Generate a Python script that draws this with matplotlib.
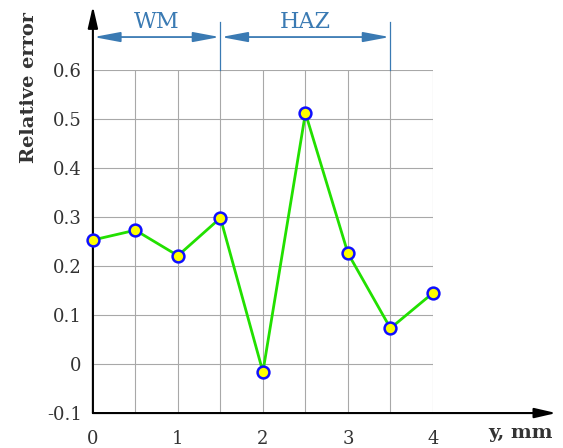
import matplotlib.pyplot as plt
import numpy as np

# data
y_pos = [0, 0.5, 1, 1.5, 2, 2.5, 3, 3.5, 4]
rel_err = [0.253, 0.273, 0.221, 0.298, -0.016, 0.512, 0.226, 0.073, 0.145]
yticks = [-0.1, 0, 0.1, 0.2, 0.3, 0.4, 0.5, 0.6]
ytick_labels = ['-0.1', '0', '0.1', '0.2', '0.3', '0.4', '0.5', '0.6']
zones = [('WM', 0, 1.5), ('HAZ', 1.5, 3.5)]

plt.rcParams['font.family'] = ['DejaVu Serif']
txt = '#333333'
zone_col = '#3a7ab3'

fig = plt.figure(figsize=(5.63, 4.48), dpi=100)
ax = fig.add_axes([0.165, 0.078, 0.604, 0.766])

ax.set_xlim(0, 4)
ax.set_ylim(-0.1, 0.6)

# grid
ax.set_xticks(np.arange(0, 4.01, 0.5))
ax.set_xticklabels(['0', '', '1', '', '2', '', '3', '', '4'])
ax.set_yticks(yticks)
ax.set_yticklabels(ytick_labels)
ax.grid(True, color='#a8a8a8', lw=0.8)
ax.set_axisbelow(True)
for s in ax.spines.values():
    s.set_visible(False)
ax.tick_params(length=0, labelsize=13, colors=txt)
ax.tick_params(axis='x', pad=12)
ax.tick_params(axis='y', pad=8)

# axes arrows
ax.annotate('', xy=(0, 0.73), xytext=(0, -0.1), annotation_clip=False,
            arrowprops=dict(arrowstyle='-|>,head_length=1.3,head_width=0.3', color='black', lw=1.5,
                            shrinkA=0, shrinkB=0))
ax.annotate('', xy=(5.45, -0.1), xytext=(0, -0.1), annotation_clip=False,
            arrowprops=dict(arrowstyle='-|>,head_length=1.3,head_width=0.3', color='black', lw=1.5,
                            shrinkA=0, shrinkB=0))

# zone marks
for x in [1.5, 3.5]:
    ax.plot([x, x], [0.6, 0.698], color=zone_col, lw=0.9, clip_on=False)
for name, a, b in zones:
    ax.annotate('', xy=(b, 0.667), xytext=(a, 0.667), annotation_clip=False,
                arrowprops=dict(arrowstyle='<|-|>,head_length=1.6,head_width=0.3', color=zone_col,
                                lw=1.3, shrinkA=0.5, shrinkB=0.5))
    ax.text((a + b) / 2, 0.676, name, ha='center', va='bottom', fontsize=16, color=zone_col)

ax.plot(y_pos, rel_err, color='#22e000', lw=2, marker='o', ms=8.5,
        mfc='#ffff00', mec='#1010ff', mew=1.8, clip_on=False, zorder=5)

ax.set_ylabel('Relative error', fontsize=14, fontweight='bold', color=txt)
ax.yaxis.set_label_coords(-0.162, 0.95)
fig.text(0.925, 0.022, 'y, mm', fontsize=14, fontweight='bold', color=txt, ha='center')

plt.savefig('out.png')
